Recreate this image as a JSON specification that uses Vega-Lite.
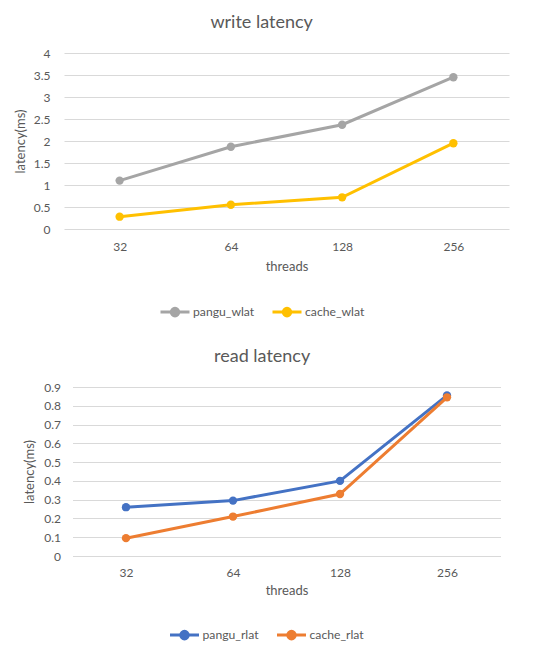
{
  "$schema": "https://vega.github.io/schema/vega-lite/v6.json",
  "description": "Write and read latency of pangu vs cache by thread count",
  "background": "white",
  "padding": {"left": 14, "top": 14, "right": 10, "bottom": 5},
  "spacing": 26,
  "center": true,
  "config": {
    "font": "Lato",
    "view": {"stroke": null},
    "title": {"font": "Lato", "fontSize": 18, "fontWeight": "normal", "color": "#595959", "anchor": "middle", "frame": "bounds", "offset": 15},
    "axis": {
      "labelFont": "Lato", "labelFontSize": 12, "labelColor": "#595959",
      "titleFont": "Lato", "titleFontSize": 13, "titleFontWeight": "normal", "titleColor": "#595959",
      "domain": false, "ticks": false, "tickSize": 0, "gridColor": "#D9D9D9", "gridWidth": 1
    },
    "legend": {
      "labelFont": "Lato", "labelFontSize": 12.2, "labelColor": "#595959",
      "orient": "none", "direction": "horizontal", "title": null,
      "symbolType": "M-1,0L1,0M-0.26,0A0.26,0.26 0 1,0 0.26,0A0.26,0.26 0 1,0 -0.26,0Z",
      "symbolSize": 841, "symbolStrokeWidth": 3, "labelOffset": 2, "columnPadding": 11
    }
  },
  "datasets": {
    "write": [
      {"threads": 32, "series": "pangu_wlat", "latency": 1.1},
      {"threads": 64, "series": "pangu_wlat", "latency": 1.87},
      {"threads": 128, "series": "pangu_wlat", "latency": 2.37},
      {"threads": 256, "series": "pangu_wlat", "latency": 3.45},
      {"threads": 32, "series": "cache_wlat", "latency": 0.28},
      {"threads": 64, "series": "cache_wlat", "latency": 0.55},
      {"threads": 128, "series": "cache_wlat", "latency": 0.72},
      {"threads": 256, "series": "cache_wlat", "latency": 1.95}
    ],
    "read": [
      {"threads": 32, "series": "pangu_rlat", "latency": 0.26},
      {"threads": 64, "series": "pangu_rlat", "latency": 0.295},
      {"threads": 128, "series": "pangu_rlat", "latency": 0.4},
      {"threads": 256, "series": "pangu_rlat", "latency": 0.855},
      {"threads": 32, "series": "cache_rlat", "latency": 0.095},
      {"threads": 64, "series": "cache_rlat", "latency": 0.21},
      {"threads": 128, "series": "cache_rlat", "latency": 0.33},
      {"threads": 256, "series": "cache_rlat", "latency": 0.845}
    ]
  },
  "vconcat": [
    {
      "title": "write latency",
      "width": 445,
      "height": 176,
      "data": {"name": "write"},
      "mark": {"type": "line", "strokeWidth": 3, "point": {"filled": true, "size": 70}},
      "encoding": {
        "x": {"field": "threads", "type": "ordinal", "title": "threads",
              "axis": {"labelAngle": 0, "labelPadding": 12, "titlePadding": 8}},
        "y": {"field": "latency", "type": "quantitative", "title": "latency(ms)",
              "scale": {"domain": [0, 4]},
              "axis": {"values": [0, 0.5, 1, 1.5, 2, 2.5, 3, 3.5, 4], "format": "~g", "labelPadding": 14, "titlePadding": 6}},
        "color": {"field": "series", "type": "nominal",
                  "scale": {"domain": ["pangu_wlat", "cache_wlat"], "range": ["#A5A5A5", "#FFC000"]},
                  "legend": {"legendX": 95, "legendY": 243}}
      }
    },
    {
      "title": "read latency",
      "width": 428,
      "height": 169,
      "data": {"name": "read"},
      "mark": {"type": "line", "strokeWidth": 3, "point": {"filled": true, "size": 70}},
      "encoding": {
        "x": {"field": "threads", "type": "ordinal", "title": "threads",
              "axis": {"labelAngle": 0, "labelPadding": 11, "titlePadding": 6}},
        "y": {"field": "latency", "type": "quantitative", "title": "latency(ms)",
              "scale": {"domain": [0, 0.9]},
              "axis": {"values": [0, 0.1, 0.2, 0.3, 0.4, 0.5, 0.6, 0.7, 0.8, 0.9], "format": "~g", "labelPadding": 12, "titlePadding": 7}},
        "color": {"field": "series", "type": "nominal",
                  "scale": {"domain": ["pangu_rlat", "cache_rlat"], "range": ["#4472C4", "#ED7D31"]},
                  "legend": {"legendX": 96, "legendY": 232}}
      }
    }
  ],
  "resolve": {"scale": {"color": "independent", "x": "independent", "y": "independent"}}
}
